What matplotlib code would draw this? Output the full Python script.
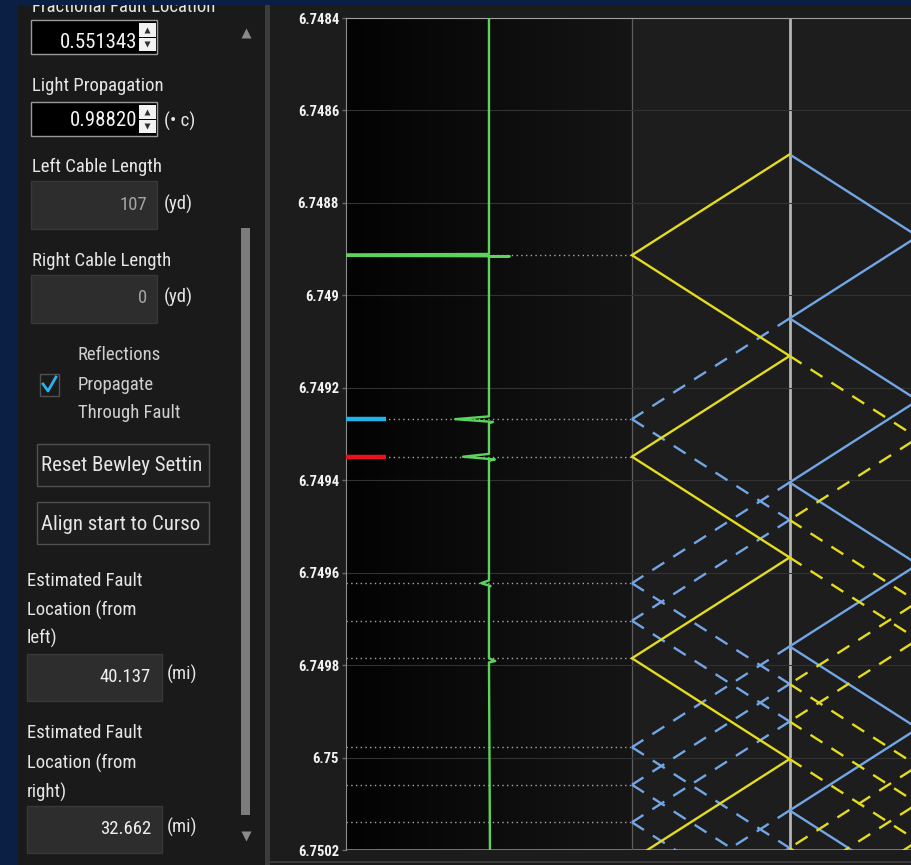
import numpy as np
import matplotlib
matplotlib.use("Agg")
import matplotlib.pyplot as plt
from matplotlib import font_manager
from matplotlib.patches import Rectangle
from matplotlib.lines import Line2D
from matplotlib.colors import LinearSegmentedColormap
from matplotlib.transforms import Bbox

W, H = 912, 865

# values shown in the side panel
fractional_fault = "0.551343"
light_propagation = "0.98820"
left_cable_yd = "107"
right_cable_yd = "0"
fault_from_left_mi = 40.137
fault_from_right_mi = 32.662
velocity_factor = 0.98820
c_mi_per_s = 186282.397

# time axis (seconds)
t_top = 6.7484
t_bottom = 6.7502
y_ticks = [6.7484, 6.7486, 6.7488, 6.749, 6.7492, 6.7494, 6.7496, 6.7498, 6.75, 6.7502]
y_tick_labels = ["6.7484", "6.7486", "6.7488", "6.749", "6.7492",
                 "6.7494", "6.7496", "6.7498", "6.75", "6.7502"]
t_fault = 6.748695  # fault origin time read from the lattice apex

# green trace spikes at the first left-end arrivals (mi offsets): dip, overshoot
spike_dips = [-95.0, -8.6, -6.6, -2.0, 0.0, 0.0]
spike_peaks = [5.3, 1.0, 1.5, 0.4, 0.0, 1.6]
# coloured cursor bars on arrival #1 and #2
cursor_colors = {1: "#1fb4ea", 2: "#e8121e"}

available = {f.name for f in font_manager.fontManager.ttflist}
ui_font = next(f for f in ["Roboto Condensed", "Liberation Sans Narrow", "Roboto", "DejaVu Sans"]
               if f in available)
plt.rcParams["font.family"] = [ui_font, "DejaVu Sans"]

fig = plt.figure(figsize=(W / 100, H / 100), dpi=100, facecolor="#0b1f45")


def box(x0, y0, x1, y1, face, edge="none", lw=1.0, z=0.5):
    r = Rectangle((x0 / W, 1 - y1 / H), (x1 - x0) / W, (y1 - y0) / H,
                  transform=fig.transFigure, facecolor=face, edgecolor=edge, lw=lw, zorder=z)
    fig.add_artist(r)


def label(x, y, s, size=13.5, color="#e6e6e6", ha="left", va="center"):
    return fig.text(x / W, 1 - y / H, s, fontsize=size, color=color, ha=ha, va=va, zorder=3)


def mark(x, y, m, size, color):
    fig.add_artist(Line2D([x / W], [1 - y / H], marker=m, ms=size, color=color, mec="none",
                          transform=fig.transFigure, zorder=3))


def spinner(x0, y0, x1, y1):
    ym = (y0 + y1) / 2
    box(x0, y0 + 1, x1, ym - 0.5, "#f2f2f2", z=2)
    box(x0, ym + 0.5, x1, y1 - 1, "#f2f2f2", z=2)
    mark((x0 + x1) / 2, (y0 + ym) / 2 + 0.5, "^", 5, "#303030")
    mark((x0 + x1) / 2, (ym + y1) / 2 - 0.5, "v", 5, "#303030")


# ---- panels ----
box(18, 5, 265, H, "#1a1a1a")
box(265, 5, 270, H, "#3c3c3c")
box(270, 5, W, H, "#1c1c1c")
box(241, 228, 250, 815, "#7c7c7c", z=1)
mark(246, 33, "^", 7, "#8a8a8a")
mark(246, 836, "v", 7, "#8a8a8a")

# ---- side panel controls ----
t = label(32, 12, "Fractional Fault Location", va="baseline")
t.set_clip_box(Bbox([[18, 0], [265, H - 5]]))
t.set_clip_on(True)

box(31, 20, 157, 54, "#000000", "#9a9a9a", 1.0, z=1)
label(137, 42, fractional_fault, size=15, color="#f4f4f4", ha="right")
spinner(139, 22, 156, 52)

label(32, 86, "Light Propagation")
box(31, 102, 157, 136, "#000000", "#9a9a9a", 1.0, z=1)
label(137, 121, light_propagation, size=15, color="#f4f4f4", ha="right")
spinner(139, 104, 156, 134)
label(164, 121, "(• c)")

label(32, 167, "Left Cable Length")
box(31, 181, 157, 229, "#2d2d2d", "#383838", z=1)
label(147, 205, left_cable_yd, size=13.5, color="#a4a4a4", ha="right")
label(164, 204, "(yd)")

label(32, 261, "Right Cable Length")
box(31, 275, 157, 323, "#2d2d2d", "#383838", z=1)
label(147, 298, right_cable_yd, size=13.5, color="#a4a4a4", ha="right")
label(164, 297, "(yd)")

box(40, 374, 59, 396, "#1a1a1a", "#505050", 1.0, z=1)
fig.add_artist(Line2D(np.array([43, 48, 56]) / W, 1 - np.array([384, 391, 377]) / H,
                      color="#2cb2ea", lw=2.0, transform=fig.transFigure, zorder=3))
label(78, 355, "Reflections", color="#cfcfcf")
label(78, 385, "Propagate", color="#cfcfcf")
label(78, 413, "Through Fault", color="#cfcfcf")

box(37, 444, 209, 486, "#1e1e1e", "#505050", 1.0, z=1)
label(41, 466, "Reset Bewley Settin", size=15)
box(37, 502, 209, 544, "#1e1e1e", "#505050", 1.0, z=1)
label(41, 524, "Align start to Curso", size=15)

label(27, 581, "Estimated Fault")
label(27, 610, "Location (from")
label(27, 638, "left)")
box(27, 654, 162, 701, "#2d2d2d", "#383838", z=1)
label(151, 677, f"{fault_from_left_mi:.3f}", size=13.5, color="#f0f0f0", ha="right")
label(167, 674, "(mi)")

label(27, 733, "Estimated Fault")
label(27, 763, "Location (from")
label(27, 792, "right)")
box(27, 806, 162, 853, "#2d2d2d", "#383838", z=1)
label(151, 829, f"{fault_from_right_mi:.3f}", size=13.5, color="#f0f0f0", ha="right")
label(167, 827, "(mi)")

# ---- Bewley lattice ----
# solid waves reflect and transmit at the fault; transmitted (dashed) waves only reflect
L = fault_from_left_mi + fault_from_right_mi
xf = fault_from_left_mi
v = velocity_factor * c_mi_per_s
pos = {"left": 0.0, "fault": xf, "right": L}

segments = []
arrivals = []
waves = [("fault", t_fault, -1, "yellow", False), ("fault", t_fault, 1, "blue", False)]
while waves:
    node, t0, d, col, dash = waves.pop()
    if t0 > t_bottom:
        continue
    if node == "fault":
        dest = "left" if d < 0 else "right"
    else:
        dest = "fault"
    t1 = t0 + abs(pos[dest] - pos[node]) / v
    segments.append((pos[node], t0, pos[dest], t1, col, dash))
    if dest == "fault":
        waves.append(("fault", t1, -d, col, dash))
        if not dash:
            waves.append(("fault", t1, d, col, True))
    else:
        waves.append((dest, t1, -d, col, dash))
        if dest == "left" and t1 <= t_bottom:
            arrivals.append(t1)

arrivals = sorted(set(np.round(arrivals, 9)))

ax = fig.add_axes([346 / W, 15 / H, (1000 - 346) / W, 832 / H], zorder=2)
ax.set_facecolor("#1d1d1d")
x_right = 93.7
ax.set_xlim(-L, x_right)
ax.set_ylim(t_bottom, t_top)

grad = LinearSegmentedColormap.from_list("g", ["#030303", "#151515"])
ax.imshow(np.linspace(0, 1, 256)[None, :], cmap=grad, aspect="auto",
          extent=[-L, 0, t_bottom, t_top], zorder=0, interpolation="bilinear")

ax.set_yticks(y_ticks)
ax.set_yticklabels(y_tick_labels)
ax.set_xticks([])
ax.grid(axis="y", color="#323232", lw=0.8, zorder=0.5)
ax.tick_params(axis="y", colors="#6a6a6a", labelcolor="#f2f2f2", labelsize=10.5,
               length=3, width=1, pad=2)
for lab in ax.get_yticklabels():
    lab.set_fontweight("bold")
for s in ["right", "bottom"]:
    ax.spines[s].set_visible(False)
ax.spines["left"].set_color("#8c8c8c")
ax.spines["top"].set_color("#a0a0a0")
ax.axhline(t_bottom, color="#8c8c8c", lw=1.2, zorder=1)

ax.axvline(0, color="#5e5e5e", lw=0.9, zorder=1)
ax.axvline(xf, color="#b4b4b4", lw=2.0, zorder=1)

# dotted arrival lines and cursor bars
for i, ta in enumerate(arrivals):
    ax.plot([-L, 0], [ta, ta], color="#a8a8a8", lw=1.0, ls=(0, (1, 2.4)), zorder=2)
    if i in cursor_colors:
        ax.plot([-L, -L + 10.2], [ta, ta], color=cursor_colors[i], lw=3.2,
                solid_capstyle="butt", zorder=4)

colors = {"yellow": "#e4dc1c", "blue": "#72a6e6"}
for x0, t0, x1, t1, col, dash in segments:
    ax.plot([x0, x1], [t0, t1], color=colors[col], lw=1.7,
            ls=(0, (6, 4.5)) if dash else "-", zorder=3, solid_capstyle="round")

# green trace
base = -L / 2
tr_t = [t_top]
tr_x = [base]
for i, (ta, dip, peak) in enumerate(zip(arrivals, spike_dips, spike_peaks)):
    dt = 2.5e-6 if i == 0 else 6e-6
    tr_t += [ta - dt, ta, ta + dt, ta + 1.5 * dt]
    tr_x += [base, base + dip, base + peak, base]
tr_t.append(t_bottom)
tr_x.append(base + 0.25)
ax.plot(tr_x, tr_t, color="#5cd35c", lw=1.7, zorder=5)

box(270, 861, W, 863, "#3a3a3a", z=3)

fig.savefig("out.png", dpi=100, facecolor=fig.get_facecolor())
